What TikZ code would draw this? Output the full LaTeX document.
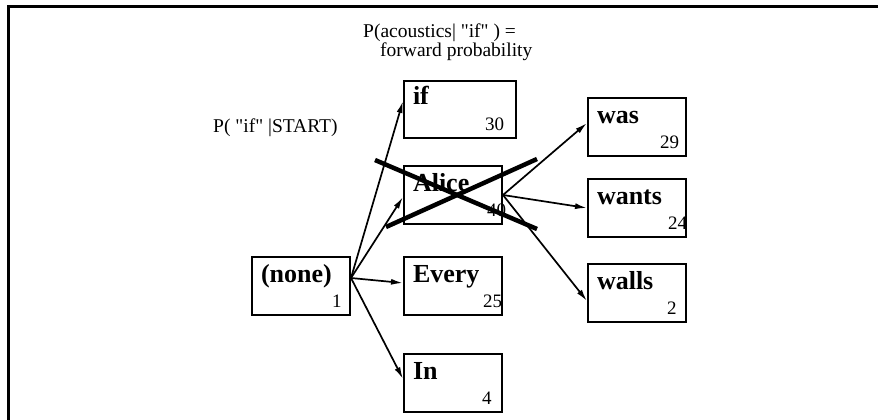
\documentclass[tikz,border=0pt]{standalone}
\usepackage{fontspec}
\setmainfont{Liberation Serif}[Ligatures=TeXOff]
\usetikzlibrary{arrows.meta,positioning}

\begin{document}
\begin{tikzpicture}[x=1pt,y=-1pt,>={Latex[length=12pt,width=6pt]}]
  \tikzstyle{word}=[draw,line width=2pt,anchor=north west,align=left,inner xsep=9pt,inner ysep=0pt,text width=80pt,text height=25pt,text depth=33pt,font=\fontsize{26}{26}\selectfont\bfseries]
  \tikzstyle{count}=[anchor=base west,inner sep=0pt,font=\fontsize{19}{19}\selectfont]
  \tikzstyle{note}=[anchor=base west,inner sep=0pt,font=\fontsize{19.5}{19.5}\selectfont]
  \tikzstyle{link}=[->,line width=1.7pt]
  \tikzstyle{cross}=[line width=4.5pt]
  \useasboundingbox (0,0) rectangle (878,420);
  \draw[line width=2.2pt] (878,6.5) -- (8.5,6.5) -- (8.5,420);
  % word boxes
  \node[word] (none) at (251,256) {(none)};
  \node[word,text width=94pt,text height=23pt,text depth=34pt] (if) at (403,80) {if};
  \node[word] (alice) at (403,165) {Alice};
  \node[word] (every) at (403,256) {Every};
  \node[word] (in) at (403,353) {In};
  \node[word] (was) at (587,97) {was};
  \node[word] (wants) at (587,178) {wants};
  \node[word] (walls) at (587,263) {walls};
  \foreach \b/\n/\d in {none/1/81,if/30/82,alice/40/84,every/25/80,in/4/79,was/29/73,wants/24/81,walls/2/80}
    \node[count] (\b-num) at ([shift={(\d pt,9pt)}]\b.south west) {\n};
  % annotations
  \node[note] (fwdtop) at (363,38) {P(acoustics| "if" ) =};
  \node[note] (fwdbot) at (380,57) {forward probability};
  \node[note] (startprob) at (213,132) {P( "if" |START)};
  % links
  \coordinate (none-out) at ([yshift=8pt]none.east);
  \draw[link] (none-out) -- ([yshift=8.5pt]if.west);
  \draw[link] (none-out) -- ([yshift=-2pt]alice.west);
  \draw[link] (none-out) -- ([yshift=3pt]every.west);
  \draw[link] (none-out) -- ([yshift=4pt]in.west);
  \draw[link] (alice.east) -- ([yshift=4pt]was.west);
  \draw[link] (alice.east) -- (wants.west);
  \draw[link] (alice.east) -- ([yshift=-8pt]walls.west);
  % pruned
  \coordinate (cutA) at (375,160);
  \coordinate (cutB) at (537,229);
  \coordinate (cutC) at (386,227);
  \coordinate (cutD) at (537,159);
  \draw[cross] (cutA) -- (cutB);
  \draw[cross] (cutC) -- (cutD);
\end{tikzpicture}
\end{document}
